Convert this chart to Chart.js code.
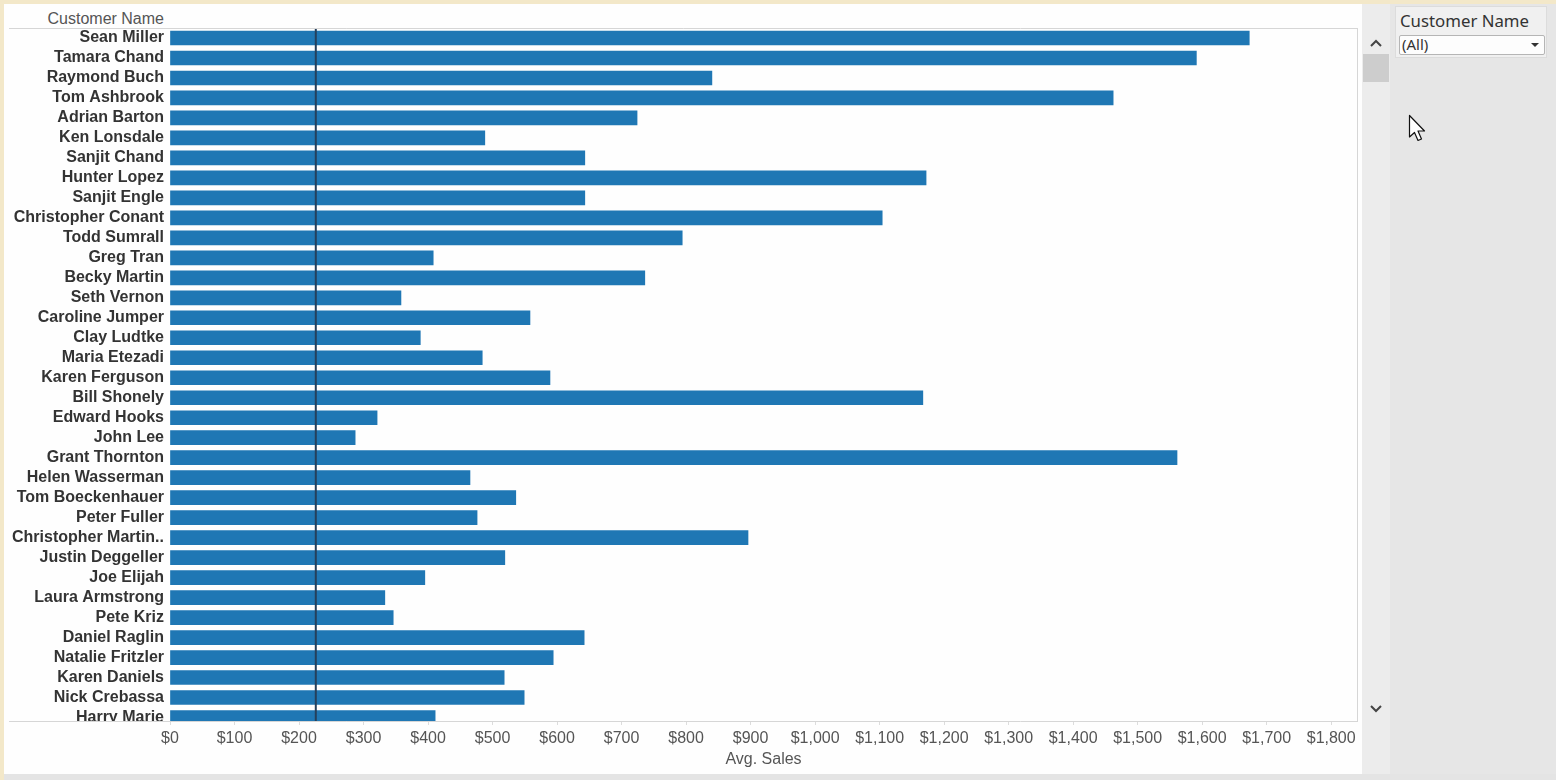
<!DOCTYPE html>
<html>
<head>
<meta charset="utf-8">
<script src="https://cdn.jsdelivr.net/npm/chart.js@4"></script>
<style>
  html, body { margin:0; padding:0; }
  body { width:1556px; height:780px; position:relative; overflow:hidden; background:#f3e8c9; font-family:"Liberation Sans", Arial, sans-serif; }
  #main { position:absolute; left:4px; top:4px; width:1358px; height:770px; background:#fefefe; }
  #bottomStrip { position:absolute; left:4px; top:774px; width:1552px; height:6px; background:#e4e4e4; }
  #track { position:absolute; left:1362px; top:4px; width:28px; height:770px; background:#ececec; }
  #thumb { position:absolute; left:1363px; top:54px; width:26px; height:28px; background:#cdcdcd; }
  #panel { position:absolute; left:1390px; top:4px; width:166px; height:770px; background:#e6e6e6; }
  #card { position:absolute; left:1395px; top:6px; width:152px; height:52px; background:#f0f0f0; border:1px solid #dcdcdc; box-sizing:border-box; }
  #cardTitle { position:absolute; left:1400px; top:9px; font-family:"Noto Sans", "Open Sans", sans-serif; font-size:16.8px; color:#333; white-space:nowrap; }
  #dropdown { position:absolute; left:1399px; top:35px; width:146px; height:20px; background:#fdfdfd; border:1px solid #b5b5b5; border-radius:2px; box-sizing:border-box; }
  #dropText { position:absolute; left:1402px; top:34px; font-family:"Noto Sans", "Open Sans", sans-serif; font-size:15px; color:#333; }
  #hdr { position:absolute; right:calc(1556px - 164px); top:10px; font-size:16px; color:#555; white-space:nowrap; }
  canvas#c { position:absolute; left:0; top:0; }
  svg { position:absolute; }
</style>
</head>
<body>
<div id="main"></div>
<div id="bottomStrip"></div>
<div id="track"></div>
<div id="thumb"></div>
<div id="panel"></div>
<div id="card"></div>
<div id="cardTitle">Customer Name</div>
<div id="dropdown"></div>
<div id="dropText">(All)</div>
<svg style="left:1530px;top:41px" width="10" height="8"><polygon points="1,2 9,2 5,6" fill="#333"/></svg>
<svg style="left:1369px;top:37px" width="14" height="12"><polyline points="2,9 7,4 12,9" fill="none" stroke="#444" stroke-width="2"/></svg>
<svg style="left:1369px;top:703px" width="14" height="12"><polyline points="2,3 7,8 12,3" fill="none" stroke="#444" stroke-width="2"/></svg>
<svg style="left:1408px;top:114px" width="22" height="30"><path d="M1.5,1.5 L1.5,23 L6.5,18.5 L10,26.5 L13.5,25 L10,17 L16.5,17 Z" fill="#fff" stroke="#111" stroke-width="1.2" stroke-linejoin="round"/></svg>
<div id="hdr">Customer Name</div>
<canvas id="c" width="1360" height="780" style="width:1360px;height:780px"></canvas>
<script>
const customers = [
  "Sean Miller","Tamara Chand","Raymond Buch","Tom Ashbrook","Adrian Barton",
  "Ken Lonsdale","Sanjit Chand","Hunter Lopez","Sanjit Engle","Christopher Conant",
  "Todd Sumrall","Greg Tran","Becky Martin","Seth Vernon","Caroline Jumper",
  "Clay Ludtke","Maria Etezadi","Karen Ferguson","Bill Shonely","Edward Hooks",
  "John Lee","Grant Thornton","Helen Wasserman","Tom Boeckenhauer","Peter Fuller",
  "Christopher Martin..","Justin Deggeller","Joe Elijah","Laura Armstrong","Pete Kriz",
  "Daniel Raglin","Natalie Fritzler","Karen Daniels","Nick Crebassa","Harry Marie"
];
const avgSales = [
  1673, 1591, 840, 1462, 724,
  488, 643, 1172, 643, 1104,
  794, 408, 736, 358, 558,
  388, 484, 589, 1167, 321,
  287, 1561, 465, 536, 476,
  896, 519, 395, 333, 346,
  642, 594, 518, 549, 411
];
const xTicks = [0,100,200,300,400,500,600,700,800,900,1000,1100,1200,1300,1400,1500,1600,1700,1800];
const referenceAvg = 226;

const fmt = v => '$' + v.toLocaleString('en-US');

const framePlugin = {
  id: 'frame',
  afterDatasetsDraw(chart) {
    const {ctx, chartArea: a, scales} = chart;
    const x = scales.x.getPixelForValue(referenceAvg);
    ctx.save();
    ctx.strokeStyle = '#25405c';
    ctx.lineWidth = 2;
    ctx.beginPath();
    ctx.moveTo(x, a.top);
    ctx.lineTo(x, a.bottom);
    ctx.stroke();
    ctx.restore();
  },
  afterDraw(chart) {
    const {ctx, chartArea: a} = chart;
    ctx.save();
    // clip the partially visible last row label like the scrolled view
    ctx.fillStyle = '#fefefe';
    ctx.fillRect(4, a.bottom + 1, a.left - 6, 5);
    ctx.strokeStyle = '#d6d6d6';
    ctx.lineWidth = 1;
    ctx.beginPath();
    ctx.moveTo(9, a.top + 0.5); ctx.lineTo(a.right + 0.5, a.top + 0.5);
    ctx.moveTo(9, a.bottom + 0.5); ctx.lineTo(a.right + 0.5, a.bottom + 0.5);
    ctx.moveTo(a.right + 0.5, a.top); ctx.lineTo(a.right + 0.5, a.bottom + 1);
    ctx.stroke();
    ctx.restore();
  }
};

new Chart(document.getElementById('c'), {
  type: 'bar',
  data: {
    datasets: [{
      label: 'Avg. Sales',
      data: avgSales.map((v, i) => ({ x: v, y: i })),
      backgroundColor: '#1f77b4',
      borderWidth: 0,
      barThickness: 14
    }]
  },
  plugins: [framePlugin],
  options: {
    indexAxis: 'y',
    responsive: false,
    animation: false,
    devicePixelRatio: 1,
    layout: { padding: { top: 28, right: 3, left: 0, bottom: 0 } },
    plugins: { legend: { display: false }, tooltip: { enabled: false } },
    scales: {
      y: {
        type: 'linear',
        reverse: true,
        offset: false,
        min: -0.5,
        max: 34.175,
        afterBuildTicks: s => { s.ticks = customers.map((_, i) => ({ value: i })); },
        afterFit: s => { s.width = 170; },
        grid: { display: false, drawTicks: false },
        border: { display: false },
        ticks: {
          autoSkip: false,
          padding: 6,
          color: '#333',
          font: { family: '"Liberation Sans", Arial, sans-serif', size: 16, weight: 'bold' },
          callback: v => customers[v]
        }
      },
      x: {
        type: 'linear',
        min: 0,
        max: 1840,
        afterBuildTicks: s => { s.ticks = xTicks.map(v => ({ value: v })); },
        afterFit: s => { s.height = 59; },
        grid: { drawOnChartArea: false, drawTicks: true, tickLength: 4, color: '#dcdcdc' },
        border: { display: false },
        ticks: {
          autoSkip: false,
          maxRotation: 0,
          padding: 4,
          color: '#555',
          font: { family: '"Liberation Sans", Arial, sans-serif', size: 16 },
          callback: v => fmt(v)
        },
        title: {
          display: true,
          text: 'Avg. Sales',
          color: '#555',
          font: { family: '"Liberation Sans", Arial, sans-serif', size: 16 },
          padding: { top: 0, bottom: 11 }
        }
      }
    }
  }
});
</script>
</body>
</html>
